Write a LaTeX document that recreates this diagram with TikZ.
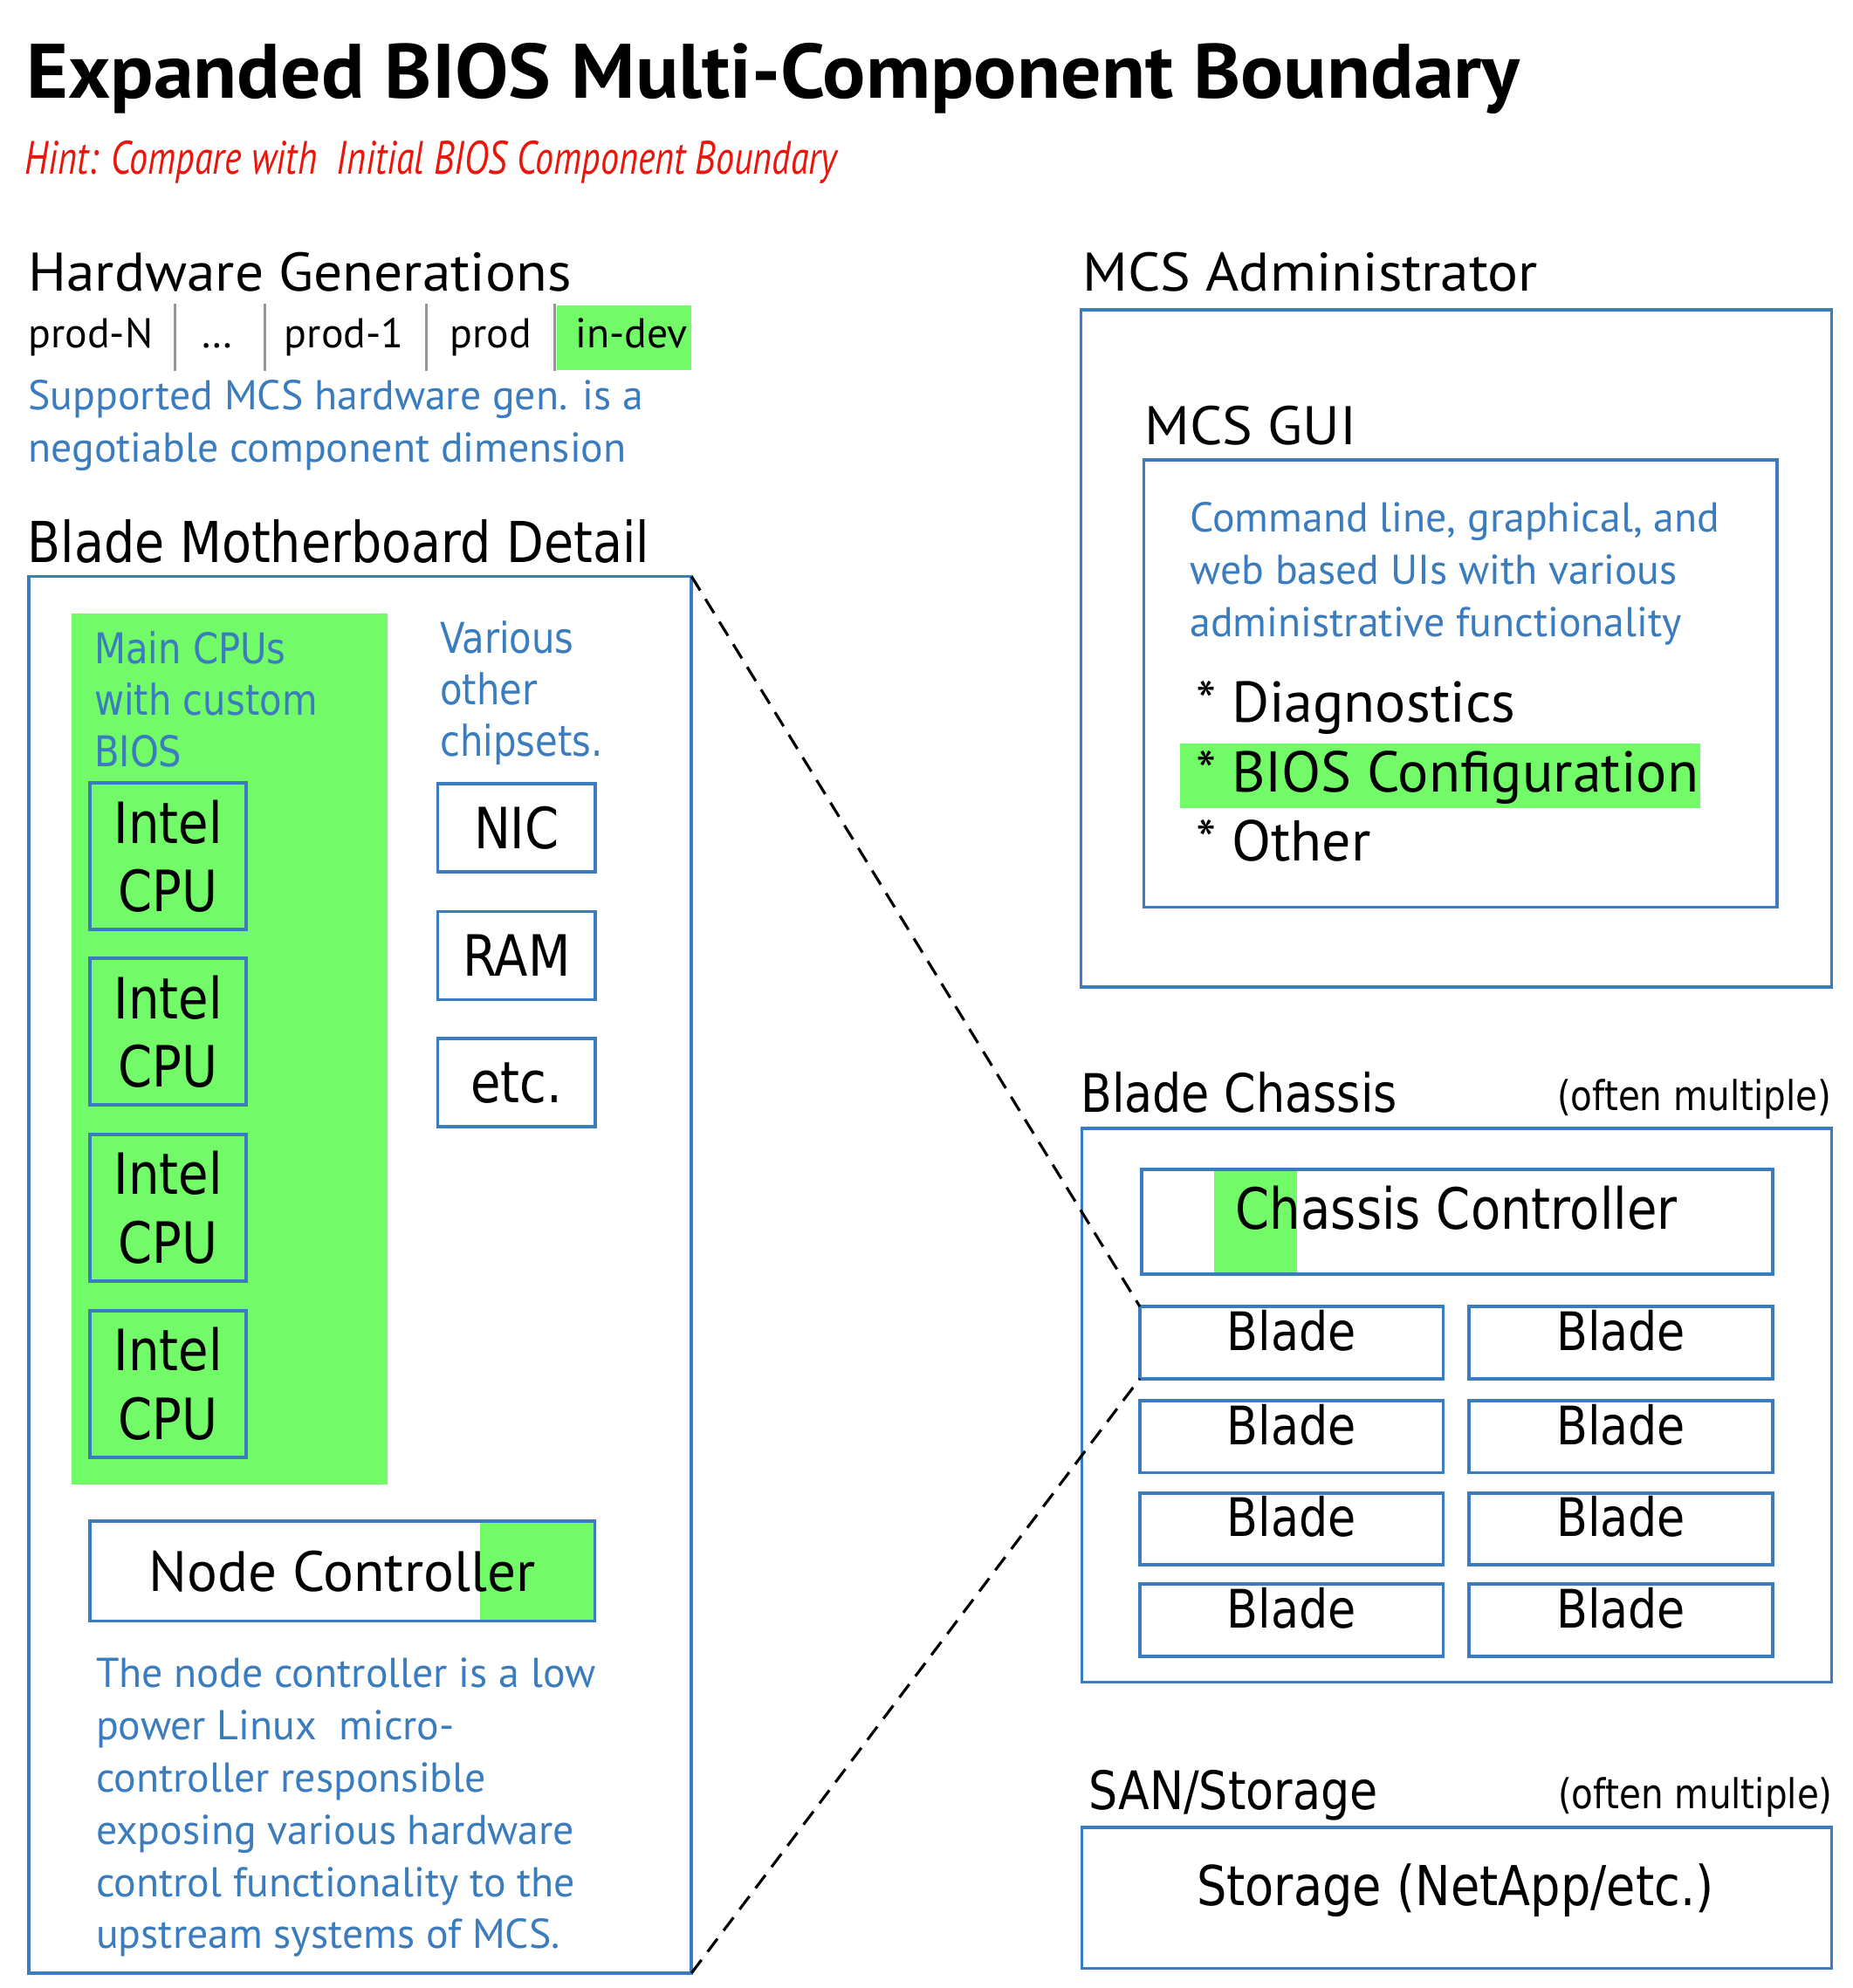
\documentclass[tikz,border=0pt]{standalone}
\usepackage{fontspec}
\setmainfont{PT Sans}
\newfontfamily\headfont{PT Sans}[FakeStretch=1.05]
\newfontfamily\titlefont{PT Sans}[FakeStretch=1.04]
\newfontfamily\lucida{DejaVu Sans}[FakeStretch=0.86]
\newfontfamily\hintfont{PT Sans}[FakeStretch=0.785]
\definecolor{mcsblue}{RGB}{58,124,189}
\definecolor{hlgreen}{RGB}{114,250,105}
\definecolor{hintred}{RGB}{232,22,12}
\definecolor{sepgrey}{RGB}{150,150,150}
\tikzset{
  every node/.style={inner sep=0pt, outer sep=0pt},
  box/.style={draw=mcsblue, line width=2.6pt, anchor=north west},
  heading/.style={anchor=base west, font=\headfont\fontsize{43}{50}\selectfont},
  lheading/.style={anchor=base west, font=\lucida\fontsize{42}{50}\selectfont},
  often/.style={anchor=base east, font=\lucida\fontsize{32.5}{36}\selectfont},
  note/.style={anchor=north west, align=left, text=mcsblue, font=\fontsize{33}{41.3}\selectfont},
  lnote/.style={anchor=north west, align=left, text=mcsblue, font=\lucida\fontsize{33.5}{41}\selectfont},
  gen/.style={anchor=base west, font=\fontsize{33}{40}\selectfont},
  item/.style={anchor=base west, font=\fontsize{45.5}{55}\selectfont},
  ltext/.style={font=\lucida\fontsize{45}{54.2}\selectfont},
  bladetext/.style={anchor=base, font=\lucida\fontsize{42}{50}\selectfont},
  zoomline/.style={line width=2.2pt, dash pattern=on 13pt off 8pt},
}
\begin{document}
\begin{tikzpicture}[x=1pt, y=-1pt]
\useasboundingbox (0,0) rectangle (1465,1572.6);

% title
\node[anchor=base west, font=\titlefont\bfseries\fontsize{61}{70}\selectfont] (title) at (21,78) {Expanded BIOS Multi-Component Boundary};
\node[anchor=base west, text=hintred, font=\hintfont\itshape\fontsize{37}{44}\selectfont] (hint) at (19.6,137.4) {Hint: Compare with\ \ Initial BIOS Component Boundary};

% hardware generations
\node[heading] (hwgen) at (22.4,229.9) {Hardware Generations};
\fill[hlgreen] (440.5,241.7) rectangle (546.5,292.5);
\foreach \x in {138.7,209.3,337.2,439}
  \draw[sepgrey, line width=2pt] (\x,240.4) -- (\x,293.3);
\foreach \t/\x [count=\i] in {prod-N/22.4,…/158.8,prod-1/225,prod/356,in-dev/455.4}
  \node[gen] (gen\i) at (\x,275.3) {\t};
\node[note] (gennote) at (22.4,300.6) {Supported MCS hardware gen. is a\\negotiable component dimension};

% blade motherboard
\node[lheading, font=\lucida\fontsize{44.6}{50}\selectfont] (mbhead) at (21.8,445) {Blade Motherboard Detail};
\fill[hlgreen] (56.4,485) rectangle (306.5,1174.5);
\node[box, minimum width=524.2, minimum height=1104.7] (mb) at (22.8,456) {};
\node[lnote] (cpunote) at (74.7,499.3) {Main CPUs\\with custom\\BIOS};
\foreach \y [count=\i] in {619.3,758,897.3,1036.8}
  \node[box, ltext, align=center, minimum width=123.7, minimum height=116] (cpu\i) at (71.1,\y) {Intel\\CPU};
\node[lnote] (chipnote) at (348,491) {Various\\other\\chipsets.};
\foreach \t/\y [count=\i] in {NIC/619.8,RAM/721,etc./821.7}
  \node[box, ltext, minimum width=124.7, minimum height=69.7] (chip\i) at (346.2,\y) {\t};
\fill[hlgreen] (379.8,1203.5) rectangle (470.4,1282.3);
\node[box, font=\fontsize{45}{50}\selectfont, minimum width=399.3, minimum height=78.8] (nc) at (71.1,1203.5) {Node Controller};
\node[note] (ncnote) at (76,1311.6) {The node controller is a low\\power Linux\ \ micro-\\controller responsible\\exposing various hardware\\control functionality to the\\upstream systems of MCS.};

% mcs administrator
\node[heading] (adminhead) at (856.3,230.4) {MCS Administrator};
\node[box, minimum width=593.8, minimum height=535.5] (admin) at (854.9,245.2) {};
\node[heading] (guihead) at (905.3,351.4) {MCS GUI};
\node[box, minimum width=500.9, minimum height=353.9] (gui) at (904.7,363.7) {};
\node[note] (guinote) at (941.3,397.6) {Command line, graphical, and\\web based UIs with various\\administrative functionality};
\fill[hlgreen] (933.2,588.1) rectangle (1344.8,639);
\node[item] (diag) at (946,571) {* Diagnostics};
\node[item] (bioscfg) at (946,626.6) {* BIOS Configuration};
\node[item] (other) at (946,681.2) {* Other};

% blade chassis
\node[lheading] (chhead) at (854.8,879.7) {Blade Chassis};
\node[often] (chmult) at (1448.7,878.3) {(often multiple)};
\node[box, minimum width=593.1, minimum height=438.1] (chassis) at (855.6,892.5) {};
\fill[hlgreen] (960.4,924.8) rectangle (1025.7,1007.9);
\node[box, minimum width=499.3, minimum height=83.1] (cc) at (902.7,924.8) {};
\node[anchor=base, font=\lucida\fontsize{45}{50}\selectfont] (cctext) at (1152,972.3) {Chassis Controller};
\foreach \y [count=\r] in {1033.5,1108,1181,1253.2} {
  \node[box, minimum width=239.9, minimum height=57] (bl\r) at (901.5,\y) {};
  \node[box, minimum width=240, minimum height=57] (br\r) at (1162,\y) {};
  \node[bladetext] (tl\r) at ([yshift=-34.6pt]bl\r.north) {Blade};
  \node[bladetext] (tr\r) at ([yshift=-34.6pt]br\r.north) {Blade};
}

% san / storage
\node[lheading] (sanhead) at (860.9,1431.2) {SAN/Storage};
\node[often] (sanmult) at (1449.5,1431) {(often multiple)};
\node[box, minimum width=593.1, minimum height=111.5] (san) at (855.6,1445.5) {};
\node[anchor=base, font=\lucida\fontsize{43.5}{50}\selectfont] (santext) at (1151,1507.2) {Storage (NetApp/etc.)};

% zoom from one blade to its motherboard
\draw[zoomline] (mb.north east) -- (bl1.north west);
\draw[zoomline] (mb.south east) -- (bl1.south west);
\end{tikzpicture}
\end{document}
